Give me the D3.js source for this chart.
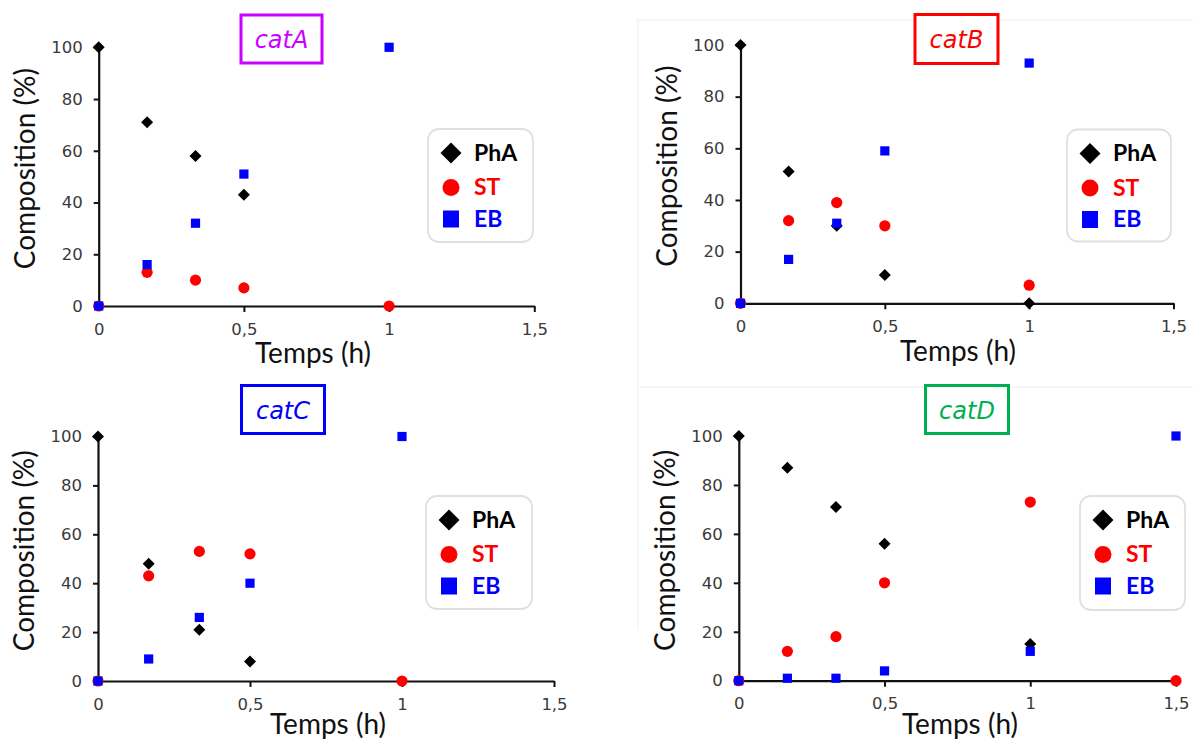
<!DOCTYPE html>
<html>
<head>
<meta charset="utf-8">
<script src="https://cdn.jsdelivr.net/npm/d3@7"></script>
<style>
  html, body { margin: 0; padding: 0; background: #ffffff; }
  svg { display: block; }
</style>
</head>
<body>
<svg id="chart" width="1193" height="740"></svg>
<script>
// ---------------- DATA ----------------
const seriesNames = ["PhA", "ST", "EB"];
const seriesColors = ["#000000", "#ff0000", "#0000ff"];
const yTicks = [0, 20, 40, 60, 80, 100];
const xTicks = [0, 0.5, 1, 1.5];
const xTickLabels = ["0", "0,5", "1", "1,5"];
const xTitle = "Temps (h)";
const yTitle = "Composition (%)";

const timesABC = [0, 1/6, 1/3, 0.5, 1];
const timesD = [0, 1/6, 1/3, 0.5, 1, 1.5];

const catA_PhA = [100, 71, 58, 43, null];
const catA_ST  = [0, 13, 10, 7, 0];
const catA_EB  = [0, 16, 32, 51, 100];

const catB_PhA = [100, 51, 30, 11, 0];
const catB_ST  = [0, 32, 39, 30, 7];
const catB_EB  = [0, 17, 31, 59, 93];

const catC_PhA = [100, 48, 21, 8, null];
const catC_ST  = [0, 43, 53, 52, 0];
const catC_EB  = [0, 9, 26, 40, 100];

const catD_PhA = [100, 87, 71, 56, 15, null];
const catD_ST  = [0, 12, 18, 40, 73, 0];
const catD_EB  = [0, 1, 1, 4, 12, 100];

const panelTitles = ["catA", "catB", "catC", "catD"];
const panelTitleColors = ["#cc00ff", "#ff0000", "#0000ff", "#00b050"];

// ---------------- LAYOUT ----------------
const layout = [
  { x0: 98.7, x1: 534.3, y0: 306, y1: 47.3, tx: 313, tb: 363, box: [241, 15, 81, 48], leg: [428, 129, 105, 113] },
  { x0: 740.5, x1: 1173.5, y0: 303.3, y1: 45, tx: 958, tb: 361, box: [915, 14.5, 83, 49], leg: [1067, 129.5, 104, 112] },
  { x0: 98, x1: 554, y0: 681, y1: 436.5, tx: 328, tb: 734, box: [241.5, 385.5, 83, 48], leg: [426, 496, 106, 113] },
  { x0: 738.8, x1: 1176, y0: 680.7, y1: 436, tx: 960, tb: 734, box: [925.5, 385.5, 83, 48], leg: [1080, 496, 105, 114] }
];

const panels = [
  { times: timesABC, series: [catA_PhA, catA_ST, catA_EB] },
  { times: timesABC, series: [catB_PhA, catB_ST, catB_EB] },
  { times: timesABC, series: [catC_PhA, catC_ST, catC_EB] },
  { times: timesD,   series: [catD_PhA, catD_ST, catD_EB] }
];

const svg = d3.select("#chart");

// faint frames around right panels
svg.append("rect").attr("x", 638).attr("y", 20).attr("width", 600).attr("height", 367)
  .attr("fill", "none").attr("stroke", "#f1f1f1").attr("stroke-width", 1.2);
svg.append("line").attr("x1", 638).attr("x2", 638).attr("y1", 387).attr("y2", 630)
  .attr("stroke", "#f3f3f3").attr("stroke-width", 1.2);

function diamond(size) {
  return `M0,${-size}L${size},0L0,${size}L${-size},0Z`;
}

panels.forEach((p, i) => {
  const L = layout[i];
  const g = svg.append("g");
  const x = d3.scaleLinear().domain([0, 1.5]).range([L.x0, L.x1]);
  const y = d3.scaleLinear().domain([0, 100]).range([L.y0, L.y1]);

  // y axis
  const ya = g.append("g").attr("transform", `translate(${L.x0},0)`)
    .call(d3.axisLeft(y).tickValues(yTicks).tickSize(5).tickSizeOuter(0).tickPadding(11));
  // x axis
  const xa = g.append("g").attr("transform", `translate(0,${L.y0})`)
    .call(d3.axisBottom(x).tickValues(xTicks).tickSize(6).tickSizeOuter(0).tickPadding(11)
      .tickFormat((d, k) => xTickLabels[k]));
  [ya, xa].forEach(a => {
    a.select(".domain").attr("stroke", "#111").attr("stroke-width", 2.2);
    a.selectAll(".tick line").attr("stroke", "#111").attr("stroke-width", 2);
    a.selectAll(".tick text").attr("fill", "#3a3a3a")
      .style("font-family", "'DejaVu Sans', sans-serif").style("font-size", "16.5px");
  });
  xa.selectAll(".tick").filter(d => d === 0).select("line").remove();

  // axis titles
  g.append("text").attr("x", L.tx).attr("y", L.tb).attr("text-anchor", "middle")
    .style("font-family", "Lato, sans-serif").style("font-size", "28px").attr("fill", "#111")
    .text(xTitle);
  const cy = (L.y0 + L.y1) / 2 - 8;
  g.append("text").attr("transform", `translate(${L.x0 - 64},${cy}) rotate(-90)`)
    .attr("text-anchor", "middle")
    .style("font-family", "Lato, sans-serif").style("font-size", "28px").attr("fill", "#111")
    .text(yTitle);

  // panel title box
  const b = L.box;
  g.append("rect").attr("x", b[0]).attr("y", b[1]).attr("width", b[2]).attr("height", b[3])
    .attr("fill", "#fff").attr("stroke", panelTitleColors[i]).attr("stroke-width", 3);
  g.append("text").attr("x", b[0] + b[2] / 2).attr("y", b[1] + b[3] / 2 + 9)
    .attr("text-anchor", "middle").attr("fill", panelTitleColors[i])
    .style("font-family", "'DejaVu Sans', sans-serif").style("font-style", "oblique").style("font-size", "24px")
    .text(panelTitles[i]);

  // markers
  p.series.forEach((vals, s) => {
    const pts = p.times.map((t, k) => ({ t, v: vals[k] })).filter(d => d.v !== null);
    const mg = g.append("g");
    if (s === 0) {
      mg.selectAll("path").data(pts).join("path")
        .attr("transform", d => `translate(${x(d.t)},${y(d.v)})`)
        .attr("d", diamond(6)).attr("fill", seriesColors[s]);
    } else if (s === 1) {
      mg.selectAll("circle").data(pts).join("circle")
        .attr("cx", d => x(d.t)).attr("cy", d => y(d.v)).attr("r", 5.6).attr("fill", seriesColors[s]);
    } else {
      mg.selectAll("rect").data(pts).join("rect")
        .attr("x", d => x(d.t) - 4.6).attr("y", d => y(d.v) - 4.6)
        .attr("width", 9.2).attr("height", 9.2).attr("fill", seriesColors[s]);
    }
  });

  // legend
  const lg = L.leg;
  const leg = g.append("g");
  leg.append("rect").attr("x", lg[0]).attr("y", lg[1]).attr("width", lg[2]).attr("height", lg[3])
    .attr("rx", 11).attr("ry", 11).attr("fill", "#fff").attr("stroke", "#e0e0e0").attr("stroke-width", 1.8);
  const rows = [24, 58.5, 90];
  seriesNames.forEach((name, s) => {
    const cx = lg[0] + 23, cyy = lg[1] + rows[s];
    if (s === 0) {
      leg.append("path").attr("transform", `translate(${cx},${cyy})`).attr("d", diamond(10.5))
        .attr("fill", seriesColors[s]);
    } else if (s === 1) {
      leg.append("circle").attr("cx", cx).attr("cy", cyy).attr("r", 8.5).attr("fill", seriesColors[s]);
    } else {
      leg.append("rect").attr("x", cx - 8).attr("y", cyy - 8.5).attr("width", 16).attr("height", 17)
        .attr("fill", seriesColors[s]);
    }
    leg.append("text").attr("x", lg[0] + 46).attr("y", cyy + 7.5)
      .attr("fill", seriesColors[s])
      .style("font-family", "Lato, sans-serif").style("font-weight", "bold").style("font-size", "23px")
      .text(name);
  });
});
</script>
</body>
</html>
